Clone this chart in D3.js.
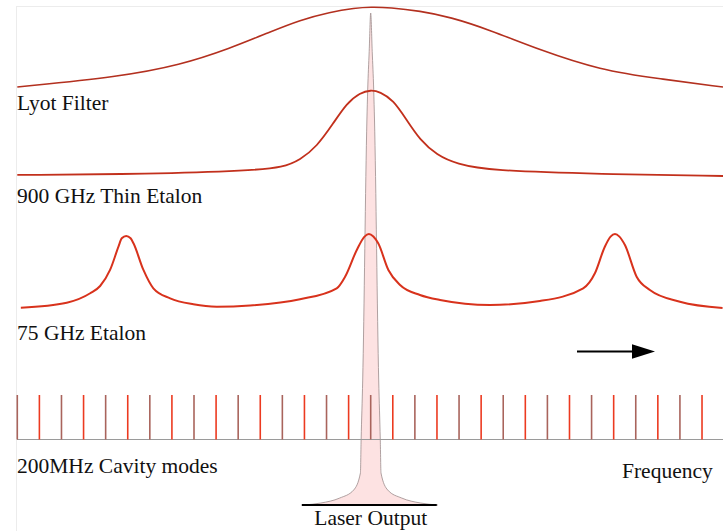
<!DOCTYPE html>
<html>
<head>
<meta charset="utf-8">
<script src="https://cdn.jsdelivr.net/npm/d3@7"></script>
<style>
  body { margin: 0; background: #fff; }
  text { font-family: "Liberation Serif", "DejaVu Serif", serif; font-size: 21.5px; fill: #111; }
</style>
</head>
<body>
<svg id="chart" width="723" height="531"></svg>
<script>
// frequency is in units of the cavity mode spacing, 0 = lasing mode
const lyotFreq = [-16, -11.35, -8.63, -6.37, -4.56, -3.2, -1.84, -0.71, 0, 0.87, 2.23, 3.59, 5.4, 7.66, 10.38, 13.1, 15.95]
const lyotTrans = [0.036, 0.16, 0.3, 0.5, 0.7, 0.843, 0.94, 0.988, 1, 0.994, 0.952, 0.88, 0.723, 0.482, 0.241, 0.133, 0.036]

const thinFreq = [-16, -9.99, -5.46, -3.95, -3.2, -2.44, -1.69, -1.09, -0.48, 0, 0.42, 1.02, 1.63, 2.23, 2.99, 3.89, 5.4, 10.38, 15.95]
const thinTrans = [0.012, 0.023, 0.062, 0.101, 0.186, 0.341, 0.613, 0.845, 0.969, 1, 0.98, 0.884, 0.651, 0.419, 0.244, 0.14, 0.062, 0.023, 0]

const etalonFreq = [-15.84, -13.76, -12.7, -12.25, -11.8, -11.42, -11.27, -11.07, -10.87, -10.74, -10.29, -9.84, -9.08, -8.03, -6.97, -5.46,
    -3.2, -1.54, -1.16, -0.63, -0.28, -0.08, 0.12, 0.34, 0.8, 1.33, 2.23, 3.14, 5.4,
    7.66, 9.62, 10.15, 10.6, 10.86, 11.06, 11.26, 11.51, 12.04, 12.64, 14.0, 15.93]
const etalonTrans = [0.004, 0.072, 0.199, 0.297, 0.514, 0.828, 0.942, 0.973, 0.942, 0.874, 0.514, 0.266, 0.131, 0.05, 0.018, 0.034,
    0.118, 0.266, 0.423, 0.784, 0.965, 1, 0.965, 0.874, 0.514, 0.311, 0.176, 0.108, 0.041,
    0.095, 0.266, 0.469, 0.828, 0.965, 1, 0.965, 0.851, 0.423, 0.243, 0.085, 0]

const laserFreq = [-3.03, -2.26, -1.4, -0.77, -0.466, -0.434, -0.362, -0.172, -0.136, -0.068, 0,
    0.068, 0.136, 0.172, 0.362, 0.434, 0.466, 0.77, 1.4, 2.26, 3.03]
const laserPower = [0, 0.004, 0.0142, 0.0305, 0.065, 0.132, 0.254, 0.7825, 0.8435, 0.922, 1,
    0.922, 0.8435, 0.7825, 0.254, 0.132, 0.065, 0.0305, 0.0142, 0.004, 0]

const modes = d3.range(-16, 16)

const labels = ["Lyot Filter", "900 GHz Thin Etalon", "75 GHz Etalon", "200MHz Cavity modes"]

let svg = d3.select("#chart")

let x = d3.scaleLinear().domain([-16, 15.95]).range([17.3, 723])

let yLyot = d3.scaleLinear().domain([0, 1]).range([90, 7])
let yThin = d3.scaleLinear().domain([0, 1]).range([176, 90])
let yEtalon = d3.scaleLinear().domain([0, 1]).range([308, 234])
let yLaser = d3.scaleLinear().domain([0, 1]).range([505, 13])
let yModes = d3.scaleLinear().domain([0, 1]).range([439.5, 395])

// faint frame
svg.append("rect")
    .attr("x", 16.5).attr("y", 6.5)
    .attr("width", 720).attr("height", 540)
    .style("fill", "none")
    .style("stroke", "#ececec")

// laser output line sits behind everything
let laserArea = d3.area()
    .x((d) => x(d[0]))
    .y0(yLaser(0))
    .y1((d) => yLaser(d[1]))
    .curve(d3.curveMonotoneX)

svg.append("path")
    .datum(d3.zip(laserFreq, laserPower))
    .attr("d", laserArea)
    .style("fill", "#fde2e2")
    .style("stroke", "#9c8c8c")
    .style("stroke-width", 0.8)

svg.append("line")
    .attr("x1", x(-3.12)).attr("x2", x(2.99))
    .attr("y1", yLaser(0)).attr("y2", yLaser(0))
    .style("stroke", "#000")
    .style("stroke-width", 2)

// filter curves
let drawCurve = (freq, vals, y, color, w, curve) => {
    let line = d3.line()
        .x((d) => x(d[0]))
        .y((d) => y(d[1]))
        .curve(curve)
    svg.append("path")
        .datum(d3.zip(freq, vals))
        .attr("d", line)
        .style("fill", "none")
        .style("stroke", color)
        .style("stroke-width", w)
}

drawCurve(lyotFreq, lyotTrans, yLyot, "#b3301f", 1.6, d3.curveBasis)
drawCurve(thinFreq, thinTrans, yThin, "#c2301c", 1.8, d3.curveBasis)
drawCurve(etalonFreq, etalonTrans, yEtalon, "#d8321c", 2, d3.curveMonotoneX)

// cavity modes
svg.append("line")
    .attr("x1", 17).attr("x2", 723)
    .attr("y1", yModes(0)).attr("y2", yModes(0))
    .style("stroke", "#9a9a9a")
    .style("stroke-width", 1)

svg.append("g")
    .selectAll("line")
    .data(modes)
    .join("line")
    .attr("x1", (d) => x(d)).attr("x2", (d) => x(d))
    .attr("y1", yModes(0)).attr("y2", yModes(1))
    .style("stroke", (d, i) => i % 2 ? "#ec3a20" : "#a9645c")
    .style("stroke-width", 1.6)

// arrow
svg.append("line")
    .attr("x1", 577).attr("x2", 634)
    .attr("y1", 351.5).attr("y2", 351.5)
    .style("stroke", "#000")
    .style("stroke-width", 2.2)

svg.append("path")
    .attr("d", "M632,344.3L655,351.5L632,358.7Z")
    .style("fill", "#000")

// labels
let labelY = [109.5, 203, 340, 473]
svg.selectAll("text.label")
    .data(labels)
    .join("text")
    .attr("class", "label")
    .attr("x", 17)
    .attr("y", (d, i) => labelY[i])
    .text((d) => d)

svg.append("text")
    .attr("x", 622).attr("y", 477.5)
    .text("Frequency")

svg.append("text")
    .attr("x", x(0)).attr("y", 525)
    .style("text-anchor", "middle")
    .text("Laser Output")
</script>
</body>
</html>
